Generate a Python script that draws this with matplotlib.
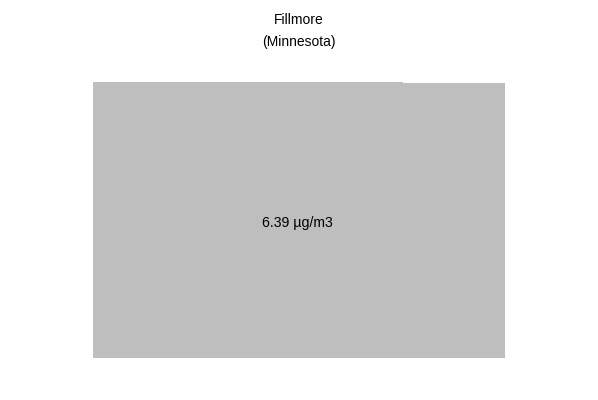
import matplotlib.pyplot as plt
from matplotlib.patches import Polygon

plt.rcParams['font.family'] = ['Liberation Sans', 'DejaVu Sans']

county = 'Fillmore'
state = 'Minnesota'
value = 6.39
unit = 'µg/m3'

# county outline (lon, lat), approximate
lon = [-92.69, -92.69, -91.968, -91.968, -91.73, -91.73]
lat = [43.499, 43.848, 43.848, 43.8465, 43.8465, 43.499]

fig = plt.figure(figsize=(5.98, 4.0), dpi=100)
ax = fig.add_axes([93 / 598, (400 - 357.7) / 400, 412 / 598, (357.7 - 82) / 400])
ax.add_patch(Polygon(list(zip(lon, lat)), closed=True, facecolor='#bebebe', edgecolor='none'))
ax.set_xlim(min(lon), max(lon))
ax.set_ylim(min(lat), max(lat))
ax.axis('off')

cx = (min(lon) + max(lon)) / 2 - 0.004
cy = (min(lat) + max(lat)) / 2 - 0.004
ax.text(cx, cy, f'{value:.2f} {unit}', ha='center', va='center', fontsize=10.2)

fig.text(0.5, 1 - 31 / 400, f'{county}\n({state})', ha='center', va='center', fontsize=10, linespacing=1.65)

fig.savefig('out.png', dpi=100)
